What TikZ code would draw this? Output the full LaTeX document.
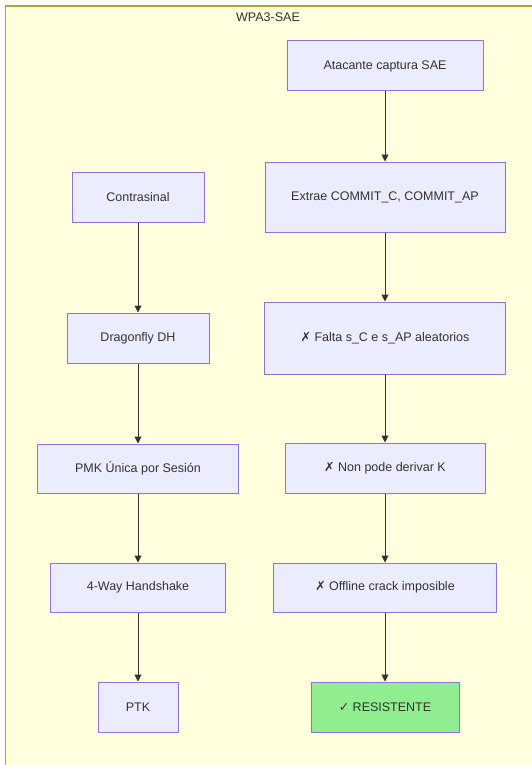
\documentclass[tikz,border=0pt]{standalone}
\usepackage{fontspec}
\setmainfont{Liberation Sans}
\newfontfamily\symfont{DejaVu Sans}
\usetikzlibrary{arrows.meta}
\definecolor{clusterfill}{HTML}{FFFFDE}
\definecolor{clusterline}{HTML}{AAAA33}
\definecolor{nodefill}{HTML}{ECECFF}
\definecolor{nodeline}{HTML}{9370DB}
\definecolor{okfill}{HTML}{90EE90}
\definecolor{txt}{HTML}{333333}
\tikzset{
  flowbox/.style={draw=nodeline, fill=nodefill, line width=1pt, text=txt,
    font=\fontsize{12.5}{15}\selectfont, inner sep=0pt, anchor=center},
  okbox/.style={flowbox, fill=okfill},
  flow/.style={draw=txt, line width=1pt, -{Triangle[length=7pt,width=7pt]}},
}
\begin{document}
\begin{tikzpicture}[x=1pt,y=-1pt]
  \useasboundingbox (0,0) rectangle (532,765);
  \fill[white] (0,0) rectangle (532,765);
  % subgraph frame
  \draw[clusterline, fill=clusterfill, line width=1.2pt] (5.5,6) rectangle (540,775);
  \node[text=txt, font=\fontsize{12.5}{15}\selectfont] (title) at (268,17) {WPA3-SAE};

  % left column
  \node[flowbox, minimum width=132pt, minimum height=50pt] (pw)  at (138,197) {Contrasinal};
  \node[flowbox, minimum width=142pt, minimum height=50pt] (dh)  at (138,338) {Dragonfly DH};
  \node[flowbox, minimum width=201pt, minimum height=49pt] (pmk) at (138,468.5) {PMK Única por Sesión};
  \node[flowbox, minimum width=175pt, minimum height=49pt] (hs)  at (138,587.5) {4-Way Handshake};
  \node[flowbox, minimum width=80pt,  minimum height=50pt] (ptk) at (138,707) {PTK};

  % right column
  \node[flowbox, minimum width=196pt, minimum height=50pt] (cap) at (385,66) {Atacante captura SAE};
  \node[flowbox, minimum width=240pt, minimum height=70pt] (com) at (385,197) {Extrae COMMIT\_C, COMMIT\_AP};
  \node[flowbox, minimum width=241pt, minimum height=72pt] (rnd) at (385,338) {{\symfont ✗} Falta s\_C e s\_AP aleatorios};
  \node[flowbox, minimum width=200pt, minimum height=50pt] (key) at (385,468) {{\symfont ✗} Non pode derivar K};
  \node[flowbox, minimum width=223pt, minimum height=49pt] (off) at (385,587.5) {{\symfont ✗} Offline crack imposible};
  \node[okbox,   minimum width=148pt, minimum height=50pt] (res) at (385,707) {{\symfont ✓} RESISTENTE};

  \draw[flow] (pw) -- (dh);
  \draw[flow] (dh) -- (pmk);
  \draw[flow] (pmk) -- (hs);
  \draw[flow] (hs) -- (ptk);

  \draw[flow] (cap) -- (com);
  \draw[flow] (com) -- (rnd);
  \draw[flow] (rnd) -- (key);
  \draw[flow] (key) -- (off);
  \draw[flow] (off) -- (res);
\end{tikzpicture}
\end{document}
